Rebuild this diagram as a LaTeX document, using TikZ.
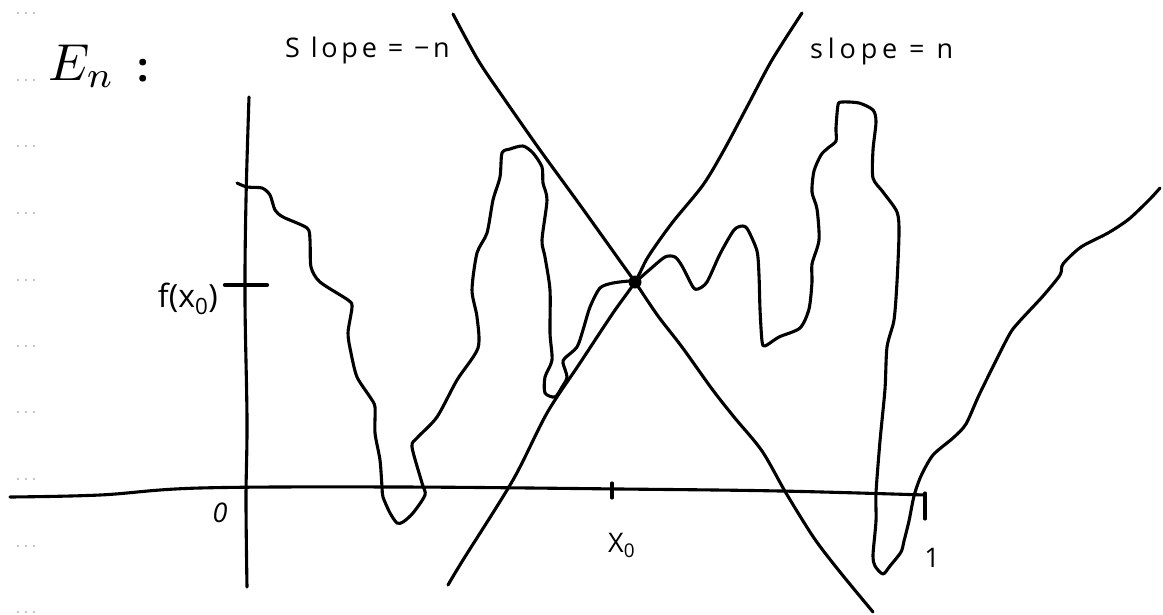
\documentclass[tikz,border=0pt]{standalone}
\usepackage{fontspec}
\setmainfont{Open Sans}
\begin{document}
\begin{tikzpicture}[x=1pt,y=-1pt,
  ink/.style={line width=3.1pt, line cap=round, line join=round, black},
  lbl/.style={font=\fontsize{27}{30}\selectfont, inner sep=0pt},
  margindot/.style={fill=black!45, draw=none}]
\useasboundingbox (0,0) rectangle (1163,614);
% scanner margin dots
\foreach \yy in {13,80,146,213,280,346,412,479,546,612}{
  \foreach \xx in {18,26,34}{\fill[margindot] (\xx,\yy) circle (0.9);}
}
% title
\node[inner sep=0pt, anchor=base west] (title) at (48,80) {\scalebox{5.2}{$E_n$}};
\node[inner sep=0pt, anchor=base, font=\bfseries\fontsize{40}{42}\selectfont] (colon) at (143,81) {:};
% slope labels
\node[lbl, anchor=base west] (lminus) at (285,57) {\addfontfeature{LetterSpace=14}S lope = −n};
\node[lbl, anchor=base west] (lplus) at (810,58) {\addfontfeature{LetterSpace=18}slope = n};
% axes
\draw[ink] plot[smooth, tension=0.6] coordinates {(10,497) (100,495) (200,488) (400,487) (620,489) (780,491) (925,495)};
\draw[ink] plot[smooth, tension=0.6] coordinates {(249,97) (246,200) (245,300) (247,420) (246,500) (247,587)};
% ticks
\draw[ink, line width=4.2pt] (225,285) -- (267,285);
\draw[ink] (612,483) -- (612,498);
\draw[ink] (925,493) -- (925,519);
% tick labels
\node[lbl, anchor=base east, font=\fontsize{32}{34}\selectfont] (fx0) at (218,307) {f(x\textsubscript{0})};
\node[lbl, font=\itshape\fontsize{27}{29}\selectfont] (zero) at (220,513) {0};
\node[lbl, anchor=base west, font=\fontsize{27}{29}\selectfont] (xzero) at (608,552) {X\textsubscript{0}};
\node[lbl, font=\fontsize{27}{29}\selectfont] (one) at (932,558) {1};
% slope lines
\coordinate (x0pt) at (635,282);
\draw[ink] plot[smooth, tension=0.5] coordinates {(453,14) (478,60) (505,100) (540,150) (580,205) (620,261) (635,282) (658,316) (682,347) (712,389) (734,417) (762,451) (786,493) (814,538) (840,572) (873,612)};
\draw[ink] plot[smooth, tension=0.5] coordinates {(802,13) (772,60) (748,105) (724,150) (703,185) (672,223) (648,257) (635,282) (613,313) (580,363) (547,413) (513,480) (463,560) (448,585)};
% the function
\draw[ink] plot[smooth, tension=0.45] coordinates {
(237,183) (247,187) (262,188) (270,195) (275,210) (283,217) (307,228) (310,240) (311,267) (320,282) (348,300) (352,307) (348,333) (351,353) (357,377) (370,397) (375,407) (375,433) (380,460) (382,487) (383,497) (390,513) (397,523) (403,522) (413,513) (425,495) (422,483) (412,447) (417,438) (437,417) (457,380) (478,348) (477,317) (472,290) (477,253) (487,233) (493,200) (500,177) (502,153) (510,149) (523,146) (533,153) (542,167) (543,183) (547,200) (542,240) (545,257) (550,290) (550,333) (552,360) (545,377) (545,393) (555,397) (562,387) (567,377) (563,363) (565,358) (577,347) (583,330) (590,307) (600,288) (613,283) (630,281) (635,282)
(648,271) (665,257) (675,257) (682,266) (693,287) (698,289) (707,282) (720,254) (734,230) (743,226) (748,230) (757,251) (759,275) (760,309) (762,341) (765,346) (779,337) (800,328) (809,309) (812,282) (812,264) (819,240) (817,209) (812,192) (814,171) (821,155) (828,148) (836,141) (836,128) (838,105) (842,102) (859,103) (873,110) (876,122) (873,150) (873,178) (883,192) (897,212) (899,233) (897,282) (894,320) (887,347) (885,389) (880,441) (876,493) (876,521) (873,555) (875,566) (883,574) (890,566) (901,552) (904,541) (909,521) (914,496) (921,476) (933,455) (953,438) (966,424) (980,393) (1008,337) (1018,323) (1043,296) (1060,275) (1063,264) (1081,247) (1108,233) (1129,219) (1150,199) (1160,188)};
% point (x0, f(x0))
\fill (x0pt) circle (6.5);
\end{tikzpicture}
\end{document}
